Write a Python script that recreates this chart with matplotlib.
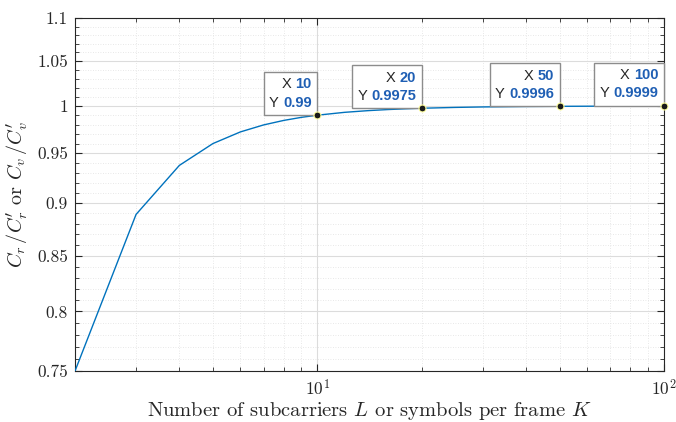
import matplotlib
matplotlib.use("Agg")
import matplotlib.pyplot as plt
from matplotlib.offsetbox import TextArea, HPacker, VPacker, AnnotationBbox
from matplotlib.ticker import MultipleLocator, LogLocator, NullFormatter, FixedLocator, FixedFormatter

# donnees
K = [2, 3, 4, 5, 6, 7, 8, 9, 10, 12, 14, 16, 18, 20, 25, 30, 40, 50, 60, 70, 80, 90, 100]
ratio = [0.75, 0.8889, 0.9375, 0.96, 0.9722, 0.9796, 0.9844, 0.9877, 0.99, 0.9931,
         0.9949, 0.9961, 0.9969, 0.9975, 0.9984, 0.9989, 0.9994, 0.9996, 0.9997,
         0.9998, 0.9998, 0.9999, 0.9999]
tip_x = [10, 20, 50, 100]
tip_y = [0.99, 0.9975, 0.9996, 0.9999]
tip_xlabels = ["10", "20", "50", "100"]
tip_ylabels = ["0.99", "0.9975", "0.9996", "0.9999"]
yticks = [0.75, 0.8, 0.85, 0.9, 0.95, 1.0, 1.05, 1.1]
ytick_labels = ["0.75", "0.8", "0.85", "0.9", "0.95", "1", "1.05", "1.1"]

plt.rcParams['font.family'] = 'serif'
plt.rcParams['font.serif'] = ['cmr10', 'DejaVu Serif']
plt.rcParams['mathtext.fontset'] = 'cm'
plt.rcParams['axes.formatter.use_mathtext'] = True

fig = plt.figure(figsize=(6.76, 4.22), dpi=100)
ax = fig.add_axes([0.111, 0.121, 0.871, 0.836])

ax.plot(K, ratio, color='#0072BD', lw=1.0, zorder=3)

# les deux axes sont en log (ecarts des ticks y non constants)
ax.set_xscale('log')
ax.set_yscale('log')
ax.set_xlim(2, 100)
ax.set_ylim(0.75, 1.1)
ax.yaxis.set_major_locator(FixedLocator(yticks))
ax.yaxis.set_major_formatter(FixedFormatter(ytick_labels))
ax.yaxis.set_minor_locator(MultipleLocator(0.01))
ax.yaxis.set_minor_formatter(NullFormatter())
ax.xaxis.set_major_locator(LogLocator(base=10))
ax.xaxis.set_minor_locator(LogLocator(base=10, subs=range(2, 10)))
ax.xaxis.set_minor_formatter(NullFormatter())

ax.grid(True, which='major', color='#dcdcdc', lw=0.8, ls='-')
ax.grid(True, which='minor', color='#e0e0e0', lw=0.6, ls=(0, (1, 2)))
ax.set_axisbelow(True)

ax.tick_params(which='both', direction='in', top=True, right=True, colors='#262626',
               labelsize=12.5)
ax.tick_params(which='major', length=5, pad=5)
ax.tick_params(which='minor', length=3)
for s in ax.spines.values():
    s.set_color('#262626')
    s.set_linewidth(0.8)

ax.set_xlabel("Number of subcarriers $L$ or symbols per frame $K$", fontsize=14.8,
              color='#262626', labelpad=1)
ax.set_ylabel(r"$C_r\,/C_r'$ or $C_v\,/C_v'$", fontsize=14.5, color='#262626', labelpad=5)

# datatips facon matlab
sans = dict(family='Liberation Sans', size=10.5)
pad_pts = 4
for x, y, lx, ly in zip(tip_x, tip_y, tip_xlabels, tip_ylabels):
    row1 = HPacker(children=[TextArea("X ", textprops=dict(color='#262626', **sans)),
                             TextArea(lx, textprops=dict(color='#1f5fb4', weight='bold', **sans))],
                   pad=0, sep=0, align='baseline')
    row2 = HPacker(children=[TextArea("Y ", textprops=dict(color='#262626', **sans)),
                             TextArea(ly, textprops=dict(color='#1f5fb4', weight='bold', **sans))],
                   pad=0, sep=0, align='baseline')
    box = VPacker(children=[row1, row2], pad=0, sep=3, align='right')
    ab = AnnotationBbox(box, (x, y), xybox=(-pad_pts, pad_pts), xycoords='data',
                        boxcoords='offset points', box_alignment=(1, 0), frameon=True,
                        bboxprops=dict(boxstyle='square,pad=0.4', fc='white', ec='#8c8c8c', lw=1.0),
                        annotation_clip=False, zorder=5)
    ax.add_artist(ab)
    ax.plot(x, y, 'o', ms=5, mfc='#1a1a1a', mec='#ffffa0', mew=0.8, zorder=6, clip_on=False)

fig.savefig("out.png", dpi=100)
